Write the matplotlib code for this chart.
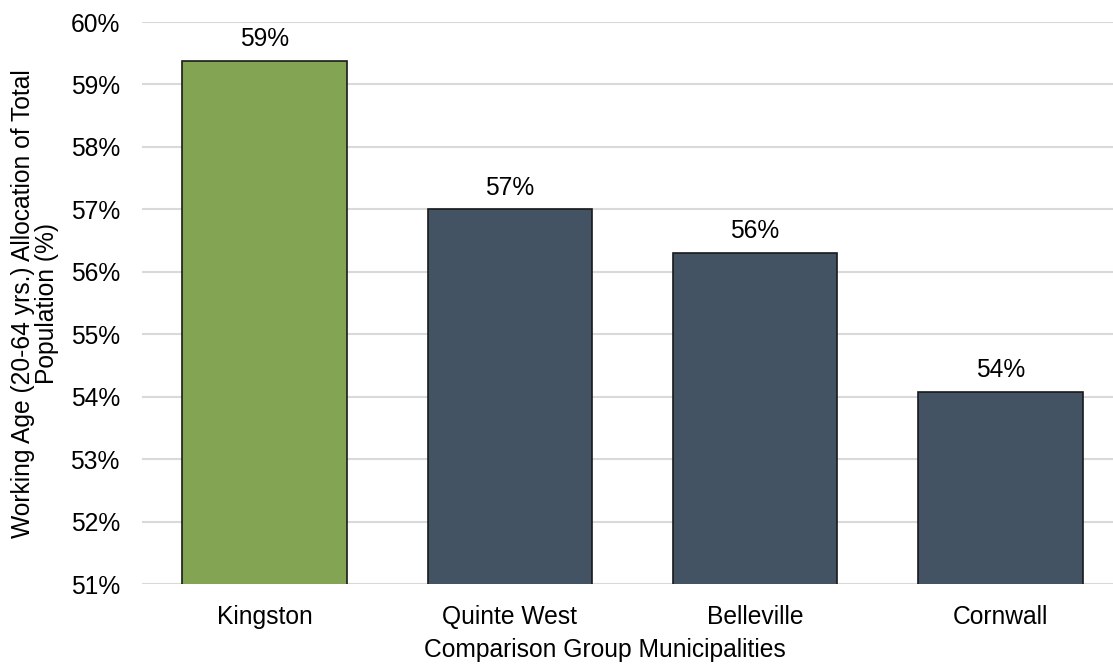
import matplotlib
matplotlib.use("Agg")
import matplotlib.pyplot as plt
from matplotlib.ticker import FuncFormatter

categories = ["Kingston", "Quinte West", "Belleville", "Cornwall"]
values = [59.38, 57.0, 56.3, 54.08]
labels = ["59%", "57%", "56%", "54%"]
colors = ["#82A453", "#435364", "#435364", "#435364"]

plt.rcParams["font.family"] = ["Liberation Sans", "DejaVu Sans"]
FS = 17.7

fig = plt.figure(figsize=(11.13, 6.66), dpi=100)
W, H = 1113, 666
left, right, top, bottom = 142, 1123, 22, 584
ax = fig.add_axes([left / W, 1 - bottom / H, (right - left) / W, (bottom - top) / H])

x = range(len(categories))
bars = ax.bar(x, values, width=0.67, color=colors, edgecolor="#1a1a1a", linewidth=1.2, zorder=3)
ax.set_ylim(51, 60)
ax.set_xlim(-0.5, len(categories) - 0.5)
ax.set_yticks(range(51, 61))
ax.yaxis.set_major_formatter(FuncFormatter(lambda v, p: f"{v:.0f}%"))
ax.grid(axis="y", color="#d9d9d9", linewidth=1.5, zorder=0)
ax.set_axisbelow(True)
for s in ax.spines.values():
    s.set_visible(False)
ax.tick_params(axis="both", length=0, labelsize=FS, colors="#000000")
ax.tick_params(axis="y", pad=16)
ax.tick_params(axis="x", pad=15)
ax.set_xticks(list(x))
ax.set_xticklabels(categories)

for b, lab in zip(bars, labels):
    ax.annotate(lab, (b.get_x() + b.get_width() / 2, b.get_height()), xytext=(0, 7),
                textcoords="offset points", ha="center", va="bottom", fontsize=FS)

ax.set_xlabel("Comparison Group Municipalities", fontsize=FS)
ax.xaxis.set_label_coords((605 - left) / (right - left), -(650 - bottom) / (bottom - top))
ax.xaxis.label.set_va("center")
fig.text(35 / W, 1 - 304 / H, "Working Age (20-64 yrs.) Allocation of Total\nPopulation (%)",
         rotation=90, ha="center", va="center", fontsize=FS, linespacing=0.95)

fig.savefig("out.png", dpi=100)
